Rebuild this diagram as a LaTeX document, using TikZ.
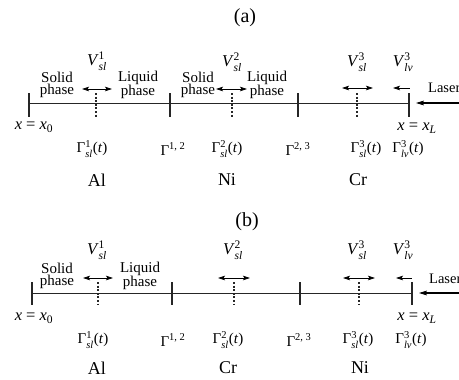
\documentclass[tikz,border=0pt]{standalone}
\usepackage{amsmath}
\usepackage{fontspec}
\setmainfont{Liberation Serif}
\usetikzlibrary{arrows.meta}
\newcommand{\SupSub}[2]{$^{\text{#1}}_{\text{\itshape #2}}$}
\begin{document}
\begin{tikzpicture}[x=1pt,y=-1pt,
  axisline/.style={line width=0.8pt, draw=black!85},
  tickmark/.style={line width=1.1pt, draw=black!85},
  dtick/.style={line width=1.1pt, draw=black!85, dash pattern=on 2pt off 1.6pt},
  velo/.style={line width=0.7pt, {Stealth[length=7pt,width=4.5pt,inset=1.4pt]}-{Stealth[length=7pt,width=4.5pt,inset=1.4pt]}},
  lvelo/.style={line width=0.7pt, {Stealth[length=7pt,width=4.5pt,inset=1.4pt]}-},
  laser/.style={line width=1.1pt, -{Stealth[length=8pt,width=4.8pt,inset=1.5pt]}},
  phase/.style={font=\fontsize{15}{10.5}\selectfont, align=center, inner sep=0pt},
  vlab/.style={font=\fontsize{16.5}{16.5}\selectfont, inner sep=0pt},
  glab/.style={font=\fontsize{15}{15}\selectfont, inner sep=0pt},
  elem/.style={font=\fontsize{18}{18}\selectfont, inner sep=0pt},
  xlab/.style={font=\fontsize{16.5}{16.5}\selectfont, inner sep=0pt},
  ttl/.style={font=\fontsize{20}{20}\selectfont, inner sep=0pt},
  lasertxt/.style={font=\fontsize{14.5}{14.5}\selectfont, inner sep=0pt, anchor=west}]
\useasboundingbox (0,0) rectangle (459,380);

% ================= panel (a) =================
\node[ttl] (ta) at (245,18) {(a)};
\coordinate (a0) at (29,103);
\coordinate (av1) at (96,103);
\coordinate (a12) at (170,103);
\coordinate (av2) at (232,103);
\coordinate (a23) at (298,103);
\coordinate (av3) at (357,103);
\coordinate (aL) at (409,103);
\coordinate (alasA) at (462,103);
\coordinate (alasB) at (416,103);
\draw[axisline] (a0) -- (aL);
\foreach \c in {a0,a12,a23,aL}
  \draw[tickmark] ([yshift=10pt]\c) -- ([yshift=-14pt]\c);
\foreach \c in {av1,av2,av3}
  \draw[dtick] ([yshift=10pt]\c) -- ([yshift=-14pt]\c);
\draw[laser] (alasA) -- (alasB);
\node[lasertxt] (alaser) at (428,88) {Laser};

\node[vlab] (aV1) at (97,61) {\textit{V}\SupSub{1}{sl}};
\node[vlab] (aV2) at (232,62) {\textit{V}\SupSub{2}{sl}};
\node[vlab] (aV3) at (357,62) {\textit{V}\SupSub{3}{sl}};
\node[vlab] (aV4) at (403,62) {\textit{V}\SupSub{3}{lv}};

\coordinate (aw1l) at (82,89); \coordinate (aw1r) at (112,89);
\coordinate (aw2l) at (216,89); \coordinate (aw2r) at (247,89);
\coordinate (aw3l) at (342,88); \coordinate (aw3r) at (373,88);
\coordinate (aw4l) at (393,88); \coordinate (aw4r) at (410,88);
\draw[velo] (aw1l) -- (aw1r);
\draw[velo] (aw2l) -- (aw2r);
\draw[velo] (aw3l) -- (aw3r);
\draw[lvelo] (aw4l) -- (aw4r);

\node[phase] (as1) at (57,85) {Solid\\phase};
\node[phase] (al1) at (138,85) {Liquid\\phase};
\node[phase] (as2) at (198,85) {Solid\\phase};
\node[phase] (al2) at (267,85) {Liquid\\phase};

\node[xlab] (ax0) at (34,127) {\textit{x} = \textit{x}$_{\text{0}}$};
\node[xlab] (axL) at (417,128) {\textit{x} = \textit{x}$_{\text{\itshape L}}$};

\node[glab] (ag1) at (92,149) {Γ\SupSub{1}{sl}(\textit{t})};
\node[glab] (ag12) at (173,149) {Γ$^{\text{1, 2}}$};
\node[glab] (ag2) at (227,149) {Γ\SupSub{2}{sl}(\textit{t})};
\node[glab] (ag23) at (298,149) {Γ$^{\text{2, 3}}$};
\node[glab] (ag3) at (366,149) {Γ\SupSub{3}{sl}(\textit{t})};
\node[glab] (ag4) at (408,149) {Γ\SupSub{3}{lv}(\textit{t})};

\node[elem] (aAl) at (97,180) {Al};
\node[elem] (aNi) at (227,180) {Ni};
\node[elem] (aCr) at (358,180) {Cr};

% ================= panel (b) =================
\node[ttl] (tb) at (247,222) {(b)};
\coordinate (b0) at (32,293);
\coordinate (bv1) at (98,293);
\coordinate (b12) at (172,293);
\coordinate (bv2) at (234,293);
\coordinate (b23) at (300,293);
\coordinate (bv3) at (359,293);
\coordinate (bL) at (412,293);
\coordinate (blasA) at (462,293);
\coordinate (blasB) at (419,293);
\draw[axisline] (b0) -- (bL);
\foreach \c in {b0,b12,b23,bL}
  \draw[tickmark] ([yshift=11pt]\c) -- ([yshift=-12pt]\c);
\foreach \c in {bv1,bv2,bv3}
  \draw[dtick] ([yshift=11pt]\c) -- ([yshift=-12pt]\c);
\draw[laser] (blasA) -- (blasB);
\node[lasertxt] (blaser) at (429,279) {Laser};

\node[vlab] (bV1) at (97,250) {\textit{V}\SupSub{1}{sl}};
\node[vlab] (bV2) at (233,250) {\textit{V}\SupSub{2}{sl}};
\node[vlab] (bV3) at (357,250) {\textit{V}\SupSub{3}{sl}};
\node[vlab] (bV4) at (403,250) {\textit{V}\SupSub{3}{lv}};

\coordinate (bw1l) at (83,278); \coordinate (bw1r) at (113,278);
\coordinate (bw2l) at (218,278); \coordinate (bw2r) at (250,278);
\coordinate (bw3l) at (343,278); \coordinate (bw3r) at (375,278);
\coordinate (bw4l) at (396,278); \coordinate (bw4r) at (412,278);
\draw[velo] (bw1l) -- (bw1r);
\draw[velo] (bw2l) -- (bw2r);
\draw[velo] (bw3l) -- (bw3r);
\draw[lvelo] (bw4l) -- (bw4r);

\node[phase] (bs1) at (57,276) {Solid\\phase};
\node[phase] (bl1) at (140,276) {Liquid\\phase};

\node[xlab] (bx0) at (34,318) {\textit{x} = \textit{x}$_{\text{0}}$};
\node[xlab] (bxL) at (417,318) {\textit{x} = \textit{x}$_{\text{\itshape L}}$};

\node[glab] (bg1) at (93,340) {Γ\SupSub{1}{sl}(\textit{t})};
\node[glab] (bg12) at (173,340) {Γ$^{\text{1, 2}}$};
\node[glab] (bg2) at (228,340) {Γ\SupSub{2}{sl}(\textit{t})};
\node[glab] (bg23) at (299,340) {Γ$^{\text{2, 3}}$};
\node[glab] (bg3) at (358,340) {Γ\SupSub{3}{sl}(\textit{t})};
\node[glab] (bg4) at (411,340) {Γ\SupSub{3}{lv}(\textit{t})};

\node[elem] (bAl) at (97,368) {Al};
\node[elem] (bCr) at (228,368) {Cr};
\node[elem] (bNi) at (360,368) {Ni};
\end{tikzpicture}
\end{document}
